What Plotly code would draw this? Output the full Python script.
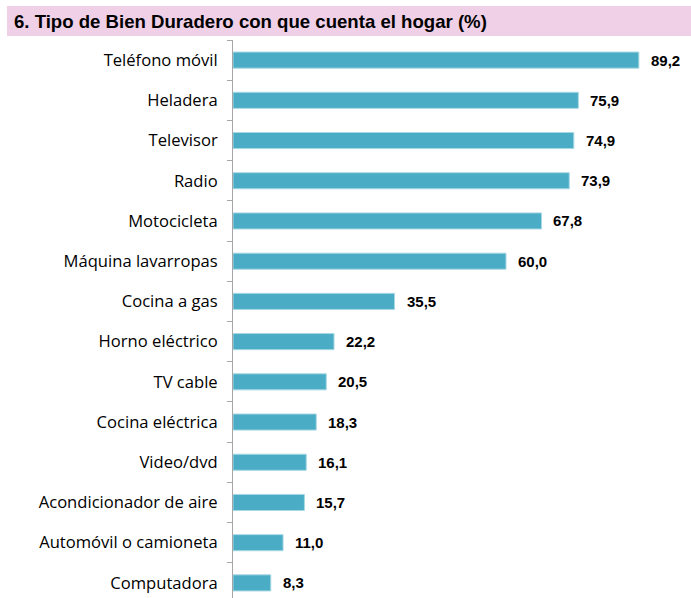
import plotly.graph_objects as go

categories = ["Teléfono móvil", "Heladera", "Televisor", "Radio", "Motocicleta",
              "Máquina lavarropas", "Cocina a gas", "Horno eléctrico", "TV cable",
              "Cocina eléctrica", "Video/dvd", "Acondicionador de aire",
              "Automóvil o camioneta", "Computadora"]
values = [89.2, 75.9, 74.9, 73.9, 67.8, 60.0, 35.5, 22.2, 20.5, 18.3, 16.1, 15.7, 11.0, 8.3]
labels = [f"{v:.1f}".replace(".", ",") for v in values]
title_text = "6. Tipo de Bien Duradero con que cuenta el hogar (%)"

W, H = 691, 603
ML, MR, MT, MB = 233, 3, 40, 0
pw = W - ML - MR
ph = H - MT - MB

def px2x(px):
    return (px - ML) / pw

def py2y(py):
    return 1 - (py - MT) / ph

fig = go.Figure()
fig.add_trace(go.Bar(
    x=values, y=categories, orientation="h",
    marker=dict(color="#4BACC6", line=dict(color="#A8D8E4", width=1)),
    hoverinfo="skip",
))

for c, v, t in zip(categories, values, labels):
    fig.add_annotation(x=v, y=c, text=f"<b>{t}</b>", showarrow=False,
                       xanchor="left", yanchor="middle", xshift=10,
                       font=dict(family="Liberation Sans, Arial", size=15, color="#000000"))

# title band
fig.add_shape(type="rect", xref="paper", yref="paper",
              x0=px2x(7), x1=px2x(691), y0=py2y(36), y1=py2y(6),
              fillcolor="#EFD0E7", line=dict(width=0), layer="below")
fig.add_annotation(xref="paper", yref="paper", x=px2x(12), y=py2y(21),
                   xanchor="left", yanchor="middle", showarrow=False,
                   text=f"<b>{title_text}</b>",
                   font=dict(family="Liberation Sans, Arial", size=18.6, color="#000000"))

fig.update_layout(
    width=W, height=H,
    margin=dict(l=ML, r=MR, t=MT, b=MB),
    paper_bgcolor="white", plot_bgcolor="white",
    bargap=0.6, showlegend=False,
)
fig.update_xaxes(range=[0, 100], visible=False, fixedrange=True)
fig.update_yaxes(autorange="reversed", type="category", tickson="boundaries",
                 ticks="outside", ticklen=5, tickcolor="#A6A6A6", tickwidth=1,
                 showline=True, linecolor="#A6A6A6", linewidth=1,
                 showgrid=False, ticklabelstandoff=11, fixedrange=True,
                 tickfont=dict(family="Open Sans", size=16.6, color="#000000"))

fig.write_html("out.html", config={"displayModeBar": False, "staticPlot": True},
               post_script="document.body.style.margin='0px';document.body.style.padding='0px';"
                           "document.body.style.overflow='hidden';"
                           "document.documentElement.style.overflow='hidden';")
